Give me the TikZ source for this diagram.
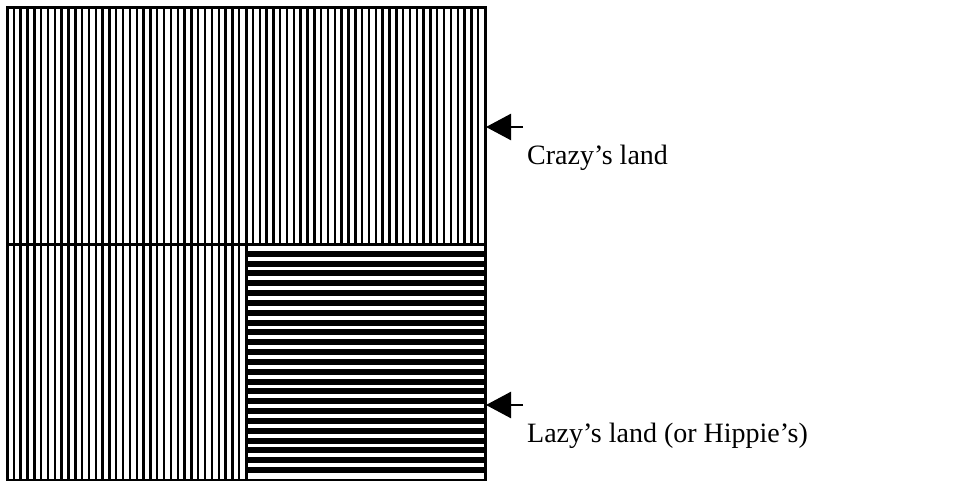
\documentclass[tikz,border=0pt]{standalone}
\usepackage{fontspec}
\setmainfont{Liberation Serif}
\usetikzlibrary{arrows.meta}
\begin{document}
\begin{tikzpicture}[x=1pt,y=-1pt,
  hatch/.style={line width=2.4pt},
  bar/.style={line width=6pt},
  frame/.style={line width=3pt},
  pointer/.style={line width=2.5pt,-{Triangle[length=25pt,width=26pt]}},
  lbl/.style={anchor=base west,inner sep=0pt,font=\fontsize{28}{34}\selectfont}]
\useasboundingbox (0,0) rectangle (961,481);
% vertical hatching: whole top half and bottom-left quarter
\foreach \i in {1,...,69} \draw[hatch] ({7+\i*6.83},8) -- ({7+\i*6.83},244);
\foreach \i in {1,...,34} \draw[hatch] ({7+\i*6.83},244) -- ({7+\i*6.83},480);
% horizontal bars: bottom-right quarter
\foreach \j in {1,...,23} \draw[bar] (246,{244+\j*9.83}) -- (485,{244+\j*9.83});
% frame
\draw[frame] (7,8) rectangle (485,480);
\draw[frame] (7,244) -- (485,244);
\draw[frame] (246,8) -- (246,480);
% labels and pointers
\node[lbl] (crazy) at (527,165) {Crazy’s land};
\node[lbl] (lazy) at (527,442) {Lazy’s land (or Hippie’s)};
\coordinate (ctail) at (523,127);
\coordinate (ctip) at (486,127);
\coordinate (ltail) at (523,405);
\coordinate (ltip) at (486,405);
\draw[pointer] (ctail) -- (ctip);
\draw[pointer] (ltail) -- (ltip);
\end{tikzpicture}
\end{document}
